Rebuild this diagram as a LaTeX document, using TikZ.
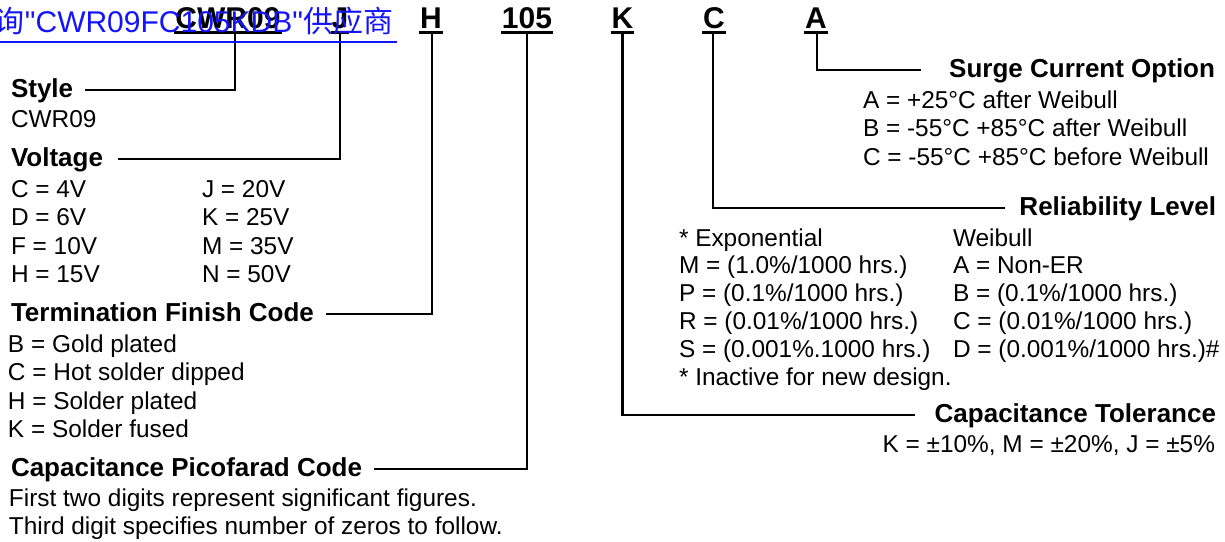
\documentclass[tikz,border=0pt]{standalone}
\usepackage{fontspec}
\setmainfont{Liberation Sans}
\newfontfamily\linkfont{Liberation Sans}[Ligatures=TeXOff]
\newfontfamily\cjk{Noto Sans CJK SC}
\usetikzlibrary{calc}
\definecolor{linkblue}{RGB}{20,20,250}
\begin{document}
\begin{tikzpicture}[x=1pt,y=-1pt,
  every node/.style={inner sep=0pt,outer sep=0pt},
  code/.style={font=\fontsize{30}{34}\selectfont\bfseries,anchor=base},
  head/.style={font=\fontsize{26}{30}\selectfont\bfseries,anchor=base west},
  headr/.style={font=\fontsize{26}{30}\selectfont\bfseries,anchor=base east},
  body/.style={font=\fontsize{24.4}{28.5}\selectfont,anchor=base west},
  bodyr/.style={font=\fontsize{24.4}{28.5}\selectfont,anchor=base east},
  conn/.style={line width=2.5pt,line join=miter},
  uline/.style={line width=3pt}]
\useasboundingbox (0,0) rectangle (1225,541);

% ---- top code letters
\node[code] (cwr) at (228,28) {CWR09};
\node[code] (cj)  at (340,28) {J};
\node[code] (ch)  at (431,28) {H};
\node[code] (c105) at (527,28) {105};
\node[code] (ck)  at (622.5,28) {K};
\node[code] (cc)  at (714,28) {C};
\node[code] (ca)  at (816,28) {A};
\foreach \n in {cwr,cj,ch,c105,ck,cc,ca}
  \draw[uline] ($(\n.base west)+(-1,4.5)$) -- ($(\n.base east)+(1,4.5)$);

% ---- left column
\node[head] (style) at (11,97) {Style};
\node[body] (stylev) at (11,127) {CWR09};
\node[head] (volt) at (11,166) {Voltage};
\node[body] (v1) at (11,197) {C = 4V};
\node[body] (v2) at (11,225.5) {D = 6V};
\node[body] (v3) at (11,254) {F = 10V};
\node[body] (v4) at (11,282.5) {H = 15V};
\node[body] (v5) at (202,197) {J = 20V};
\node[body] (v6) at (202,225.5) {K = 25V};
\node[body] (v7) at (202,254) {M = 35V};
\node[body] (v8) at (202,282.5) {N = 50V};
\node[head] (term) at (11,321) {Termination Finish Code};
\node[body] (t1) at (8,352) {B = Gold plated};
\node[body] (t2) at (8,380.5) {C = Hot solder dipped};
\node[body] (t3) at (8,409) {H = Solder plated};
\node[body] (t4) at (8,437.5) {K = Solder fused};
\node[head] (pico) at (11,476) {Capacitance Picofarad Code};
\node[body] (p1) at (9,506) {First two digits represent significant figures.};
\node[body] (p2) at (9,534.5) {Third digit specifies number of zeros to follow.};

% ---- right column
\node[headr] (surge) at (1215,77) {Surge Current Option};
\node[body] (s1) at (863,108) {A = +25°C after Weibull};
\node[body] (s2) at (863,136.5) {B = -55°C +85°C after Weibull};
\node[body] (s3) at (863,165) {C = -55°C +85°C before Weibull};
\node[headr] (rel) at (1216,215) {Reliability Level};
\node[body] (r0) at (679,246.5) {* Exponential};
\node[body] (r1) at (679,273.5) {M = (1.0\%/1000 hrs.)};
\node[body] (r2) at (679,301.5) {P = (0.1\%/1000 hrs.)};
\node[body] (r3) at (679,329.5) {R = (0.01\%/1000 hrs.)};
\node[body] (r4) at (679,357.5) {S = (0.001\%.1000 hrs.)};
\node[body] (r5) at (679,385.5) {* Inactive for new design.};
\node[body] (w0) at (953,246.5) {Weibull};
\node[body] (w1) at (953,273.5) {A = Non-ER};
\node[body] (w2) at (953,301.5) {B = (0.1\%/1000 hrs.)};
\node[body] (w3) at (953,329.5) {C = (0.01\%/1000 hrs.)};
\node[body] (w4) at (953,357.5) {D = (0.001\%/1000 hrs.)\#};
\node[headr] (tol) at (1216,422) {Capacitance Tolerance};
\node[bodyr] (tolv) at (1215,452) {K = ±10\%, M = ±20\%, J = ±5\%};

% ---- connectors
\coordinate (jS) at ($(cwr.base)+(7,5)$);
\draw[conn] (jS) |- ($(style.base east)+(12,-7)$);
\draw[conn] ($(cj.base)+(0,5)$) |- ($(volt.base east)+(15,-7)$);
\draw[conn] ($(ch.base)+(1,5)$) |- ($(term.base east)+(12,-7)$);
\draw[conn] ($(c105.base)+(0,5)$) |- ($(pico.base east)+(12,-7)$);
\draw[conn] ($(ck.base)+(0,5)$) |- ($(tol.base west)+(-20,-7)$);
\draw[conn] ($(cc.base)+(-1,5)$) |- ($(rel.base west)+(-14,-7)$);
\draw[conn] ($(ca.base)+(1,5)$) |- ($(surge.base west)+(-28,-7)$);

% ---- overlaid link text
\node[anchor=base east,text=linkblue,font=\fontsize{30}{34}\selectfont\linkfont] (link) at (393,32)
  {{\cjk 询}"CWR09FC105KDB"{\cjk 供应商}};
\draw[linkblue,line width=2pt] (0,42) -- ($(link.base east)+(4,10)$);
\end{tikzpicture}
\end{document}
